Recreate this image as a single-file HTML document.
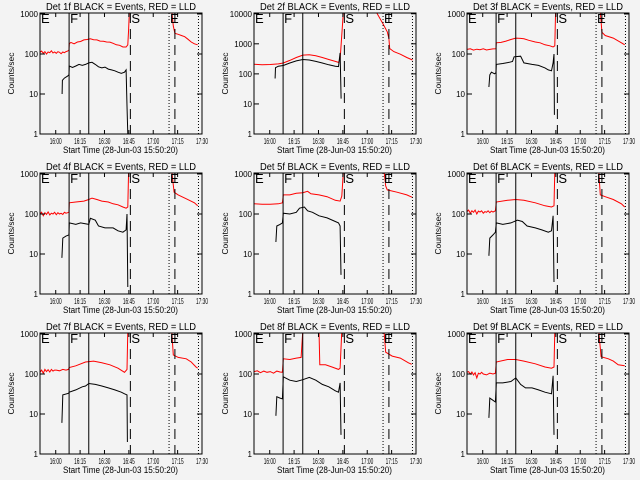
<!DOCTYPE html>
<html><head><meta charset="utf-8"><style>
html,body{margin:0;padding:0;background:#f3f3f3;}
svg{display:block;font-family:"Liberation Sans",sans-serif;}
</style></head><body>
<svg id="chart" width="640" height="480" viewBox="0 0 640 480">
<rect x="0" y="0" width="640" height="480" fill="#f3f3f3"/>
</svg>
<script>
// x values are minutes after 15:50:20; y values are counts/sec
const xTickLabels = ["16:00","16:15","16:30","16:45","17:00","17:15","17:30"];
const xTickMinutes = [9.67,24.67,39.67,54.67,69.67,84.67,99.67];
const panelTitles = ["Det 1f BLACK = Events, RED = LLD","Det 2f BLACK = Events, RED = LLD","Det 3f BLACK = Events, RED = LLD","Det 4f BLACK = Events, RED = LLD","Det 5f BLACK = Events, RED = LLD","Det 6f BLACK = Events, RED = LLD","Det 7f BLACK = Events, RED = LLD","Det 8f BLACK = Events, RED = LLD","Det 9f BLACK = Events, RED = LLD"];
const panelYMaxDecade = [3,4,3,3,3,3,3,3,3];
const solidMarkers = [17.9,30];
const dashedMarkers = [55.6,83];
const dottedMarkers = [79.4,97.5];
const markerLetters = ["E","F","S","E"];
const markerLetterTimes = [0,17.9,55.6,79.4];

const p1RedT=[0,1,2,3,4,5,6,7,8,9,10,11,12,13,14,15,16,17,17.8,18,19,21,23,25,27,29,31,33,35,37,39,41,43,45,47,49,51,53,54,54.5,55,null,81,82,83,85,87,89,91,93,95,97];
const p1RedV=[110,118,105,115,100,112,108,120,106,112,104,114,110,102,112,108,115,118,125,180,195,180,200,205,225,230,240,228,225,210,208,200,198,185,170,165,150,150,170,400,1200,null,1200,500,330,310,290,270,235,200,180,170];
const p1BlkT=[13.6,13.8,15,17,17.8,18,20,22,24,26,28,30,32,34,36,38,40,42,44,46,48,50,52,53,53.5,54];
const p1BlkV=[10,22,25,28,30,50,46,50,55,52,55,60,62,55,48,45,47,42,40,38,35,33,35,40,5,1];

const p2RedT=[0,5,10,15,18,22,26,30,34,38,42,46,50,52,53,54,55,null,75,79,82,83,83.5,86,90,94,97.5];
const p2RedV=[210,200,205,215,230,280,350,420,430,400,350,300,260,240,300,2000,12000,null,12000,5000,2500,1500,700,550,450,350,290];
const p2BlkT=[13,13.2,15,18,22,26,30,34,38,42,46,50,52,53,53.3,53.6];
const p2BlkV=[70,160,180,190,230,270,300,290,260,230,200,180,175,500,90,15];

const p3RedT=[0,2,4,6,8,10,12,14,16,17.8,18,21,24,27,30,33,35,38,42,45,48,51,53,54,54.5,null,82,83,85,90,95,97];
const p3RedV=[130,135,125,132,128,135,126,130,134,135,190,195,210,230,250,245,240,220,200,190,170,160,150,160,1200,null,1200,350,290,250,190,170];
const p3BlkT=[13.5,14,15,17,17.8,18,22,26,28,29,33,35,40,44,48,50,52,53,53.5,53.8];
const p3BlkV=[15,30,35,32,34,55,58,62,65,85,88,60,55,52,45,40,38,60,100,3];

const p4RedT=[0,1,2,3,4,5,6,7,8,9,10,11,12,13,14,15,16,17.8,18,22,27,30,32,35,38,42,45,48,51,53,54,54.5,null,81,82.5,85,90,95,97];
const p4RedV=[100,110,90,108,98,112,95,105,100,110,96,108,100,104,98,110,105,110,190,200,210,230,250,230,210,200,180,170,150,140,150,1200,null,1200,350,300,240,190,160];
const p4BlkT=[13.5,14,16,17.8,18,22,25,30,31,34,36,40,45,48,51,53,53.5,54];
const p4BlkV=[8,25,28,30,60,55,60,55,78,70,50,45,45,38,35,40,100,1.5];

const p5RedT=[0,5,10,15,17.5,18,22,26,30,33,35,40,45,50,53,54,55,null,80,81,82,88,94,97.5];
const p5RedV=[180,175,175,180,190,300,300,330,340,370,320,300,270,220,210,280,1200,null,1200,500,400,350,300,260];
const p5BlkT=[13.5,14,16,17.5,18,22,26,28,31,33,36,40,45,50,52,53,53.5];
const p5BlkV=[20,50,55,60,105,100,110,140,150,120,110,90,80,65,60,50,3];

const p6RedT=[0,1,2,3,4,5,6,7,8,9,10,11,12,13,14,15,16,17.5,18,25,30,35,42,48,52,53.5,54,null,81,82,85,90,95,97];
const p6RedV=[115,125,105,120,110,125,100,118,112,120,105,115,110,120,108,118,112,120,200,220,230,220,190,160,150,160,1200,null,1200,300,270,230,180,150];
const p6BlkT=[13.5,14,16,17.5,18,22,27,31,34,37,42,46,50,52,53,53.5];
const p6BlkV=[9,25,30,35,60,55,60,70,65,50,45,40,35,38,90,2];

const p7RedT=[0,1,2,3,4,5,6,7,8,9,10,12,14,16,17.5,18,22,28,33,38,43,48,52,53.5,54,null,81,82,85,90,93,96,97];
const p7RedV=[110,125,105,130,115,128,112,130,118,125,125,120,130,125,130,145,160,200,210,190,170,140,110,130,1200,null,1200,300,260,240,200,150,140];
const p7BlkT=[13.5,14,17.5,18,22,26,28,30,34,38,42,46,50,52,53.5,53.8];
const p7BlkV=[6,30,33,35,40,48,50,58,55,50,45,40,35,32,30,2];

const p8RedT=[0,2,4,6,8,10,12,14,16,17.5,18,22,26,29,30,null,40,40.5,44,48,52,53,54,null,80,81,85,90,95,97];
const p8RedV=[115,120,108,118,110,115,105,118,112,110,240,230,250,260,1200,null,1200,170,170,150,130,140,1200,null,1200,350,280,250,190,175];
const p8BlkT=[13.5,14,16,17.5,18,22,26,30,34,38,42,46,50,52,53,53.5];
const p8BlkV=[9,27,25,24,85,70,65,72,82,70,55,48,38,35,60,3];

const p9RedT=[0,1,2,3,4,5,6,7,8,9,10,12,14,16,17.5,18,25,30,35,42,48,52,53.5,54,null,81,82.5,87,90,93,97];
const p9RedV=[110,115,100,112,95,108,80,105,100,110,100,95,105,100,105,200,230,230,210,180,150,140,150,1200,null,1200,270,240,210,170,160];
const p9BlkT=[13.5,14,16,17.5,18,22,27,30,33,36,40,44,48,52,53,53.5];
const p9BlkV=[8,25,22,20,60,60,65,80,55,45,45,40,35,32,90,3];

const redT=[p1RedT,p2RedT,p3RedT,p4RedT,p5RedT,p6RedT,p7RedT,p8RedT,p9RedT];
const redV=[p1RedV,p2RedV,p3RedV,p4RedV,p5RedV,p6RedV,p7RedV,p8RedV,p9RedV];
const blkT=[p1BlkT,p2BlkT,p3BlkT,p4BlkT,p5BlkT,p6BlkT,p7BlkT,p8BlkT,p9BlkT];
const blkV=[p1BlkV,p2BlkV,p3BlkV,p4BlkV,p5BlkV,p6BlkV,p7BlkV,p8BlkV,p9BlkV];

const NS="http://www.w3.org/2000/svg";
const svg=document.getElementById('chart');
function mk(tag,attrs,parent){const e=document.createElementNS(NS,tag);for(const k in attrs)e.setAttribute(k,attrs[k]);(parent||svg).appendChild(e);return e;}
const colX=[0,214,427], W=162, TOPY=13, H=121, TMAX=99.67;

for(let p=0;p<9;p++){
  const c=p%3, r=Math.floor(p/3);
  const L=colX[c]+40, T=r*160+TOPY, B=T+H, R=L+W;
  const dmax=panelYMaxDecade[p], lmax=dmax+0.025;
  const xs=t=>L+t/TMAX*W;
  const ys=v=>B-Math.log10(Math.max(v,0.5))/lmax*H;
  const g=mk('g',{});
  
  
  const cp=mk('clipPath',{id:'cp'+p},g);
  mk('rect',{x:L,y:T,width:W,height:H},cp);
  const title=mk('text',{x:L+6,y:r*160+10,'font-size':'10',textLength:'150',lengthAdjust:'spacingAndGlyphs',fill:'#000'},g);
  title.textContent=panelTitles[p];
  
  
  function drawSeries(T_,V_,color,name){
    let d='',pen=false;
    for(let i=0;i<T_.length;i++){
      if(T_[i]===null){pen=false;continue;}
      d+=(pen?'L':'M')+xs(T_[i]).toFixed(1)+' '+ys(V_[i]).toFixed(1)+' ';pen=true;
    }
    const path=mk('path',{d:d,fill:'none',stroke:color,'stroke-width':'1','clip-path':'url(#cp'+p+')'},g);
    
    
  }
  drawSeries(redT[p],redV[p],'#ff0000','lld-red-series');
  drawSeries(blkT[p],blkV[p],'#000000','events-black-series');
  solidMarkers.forEach(t=>{const l=mk('line',{x1:xs(t),x2:xs(t),y1:T,y2:B,stroke:'#000','stroke-width':'1'},g);
    
    });
  dashedMarkers.forEach(t=>{const l=mk('line',{x1:xs(t),x2:xs(t),y1:T,y2:B,stroke:'#000','stroke-width':'1','stroke-dasharray':'10 6'},g);
    
    });
  dottedMarkers.forEach(t=>{const l=mk('line',{x1:xs(t),x2:xs(t),y1:T,y2:B,stroke:'#000','stroke-width':'1','stroke-dasharray':'1 2'},g);
    
    });
  markerLetters.forEach((s,i)=>{const tx=mk('text',{x:xs(markerLetterTimes[i])+1,y:T+10,'font-size':'13',fill:'#000'},g);
    tx.textContent=s;
    
    });
  const fr=mk('rect',{x:L,y:T,width:W,height:H,fill:'none',stroke:'#000','stroke-width':'1'},g);
  
  
  for(let k=0;k<=dmax;k++){
    const y=ys(Math.pow(10,k));
    mk('line',{x1:L,x2:L+5,y1:y,y2:y,stroke:'#000'},g);
    mk('line',{x1:R-5,x2:R,y1:y,y2:y,stroke:'#000'},g);
    const s=String(Math.pow(10,k));
    const lb=mk('text',{x:L-2,y:y+3,'text-anchor':'end','font-size':'8',fill:'#000'},g);
    lb.textContent=s;
    
    
  }
  xTickMinutes.forEach((t,i)=>{
    const x=xs(t);
    mk('line',{x1:x,x2:x,y1:B,y2:B-4,stroke:'#000'},g);
    mk('line',{x1:x,x2:x,y1:T,y2:T+4,stroke:'#000'},g);
    const lb=mk('text',{x:x-6,y:B+10,'font-size':'8',textLength:'12',lengthAdjust:'spacingAndGlyphs',fill:'#000'},g);
    lb.textContent=xTickLabels[i];
    
    
  });
  const xt=mk('text',{x:L+23,y:B+19,'font-size':'9',textLength:'115',lengthAdjust:'spacingAndGlyphs',fill:'#000'},g);
  xt.textContent='Start Time (28-Jun-03 15:50:20)';
  
  
  const yt=mk('text',{x:-21,y:0,'font-size':'8',textLength:'42',lengthAdjust:'spacingAndGlyphs',fill:'#000',transform:'translate('+(colX[c]+14)+','+(T+H/2)+') rotate(-90)'},g);
  yt.textContent='Counts/sec';
  
  
}
</script>
</body></html>
